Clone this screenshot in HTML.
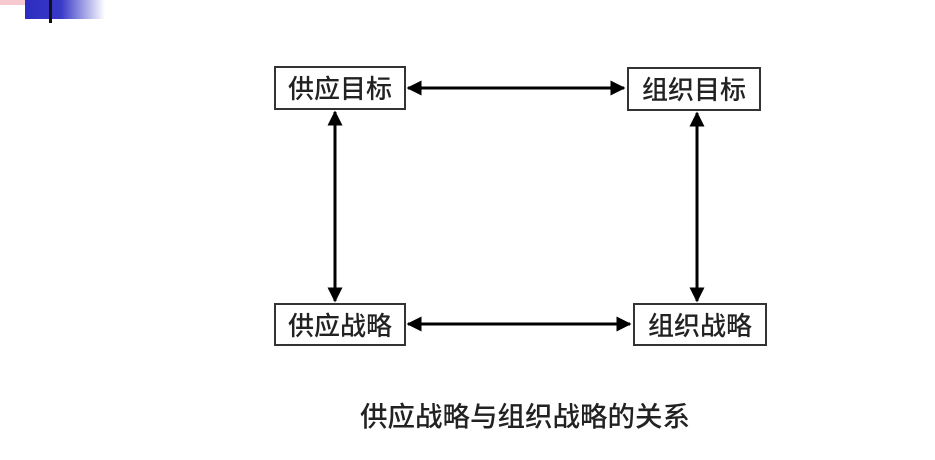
<!DOCTYPE html>
<html><head><meta charset="utf-8"><style>
body{margin:0;width:935px;height:460px;background:#fff;overflow:hidden;position:relative;font-family:"Noto Sans CJK SC",sans-serif}
.b{position:absolute;border:2px solid #333;box-sizing:border-box;background:#fff;font-size:26px;color:#222;text-align:center;font-weight:500}
</style></head><body>
<div style="position:absolute;left:0;top:0;width:40px;height:5px;background:#f6c8d0"></div>
<div style="position:absolute;left:25px;top:0;width:80px;height:19px;background:linear-gradient(to right,#2c2cc0 0%,#3a3ac8 45%,#fff 100%)"></div>
<div style="position:absolute;left:49px;top:0;width:3px;height:23px;background:#111"></div>
<svg width="935" height="460" style="position:absolute;left:0;top:0">
<defs><marker id="a" viewBox="0 0 10 10" refX="9" refY="5" markerWidth="5" markerHeight="5" orient="auto-start-reverse"><path d="M0,0L10,5L0,10z" fill="#000"/></marker></defs>
<g stroke="#000" stroke-width="3" marker-start="url(#a)" marker-end="url(#a)">
<line x1="408" y1="88" x2="624" y2="88"/>
<line x1="408" y1="324" x2="630" y2="324"/>
<line x1="335" y1="112" x2="335" y2="301"/>
<line x1="697" y1="113" x2="697" y2="301"/>
</g></svg>
<div class="b" style="left:274px;top:66px;width:132px;height:44px;line-height:40px">供应目标</div>
<div class="b" style="left:627px;top:67px;width:134px;height:44px;line-height:40px">组织目标</div>
<div class="b" style="left:274px;top:303px;width:132px;height:43px;line-height:39px">供应战略</div>
<div class="b" style="left:633px;top:303px;width:134px;height:43px;line-height:39px">组织战略</div>
<div style="position:absolute;left:300px;width:450px;top:396px;text-align:center;font-size:27.5px;line-height:36px;color:#222;font-weight:500">供应战略与组织战略的关系</div>
</body></html>
